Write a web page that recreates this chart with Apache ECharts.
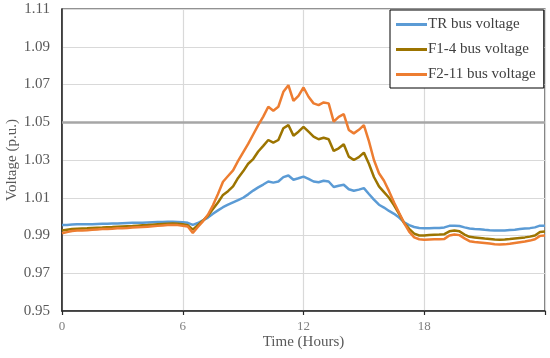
<!DOCTYPE html>
<html>
<head>
<meta charset="utf-8">
<script src="https://cdn.jsdelivr.net/npm/echarts@6/dist/echarts.min.js"></script>
<style>html,body{margin:0;padding:0;background:#fff}#c{width:550px;height:358px}</style>
</head>
<body>
<div id="c"></div>
<script>
// Time in hours, 15-minute steps
var hours = Array.from({length: 97}, function (_, i) { return i * 0.25; });
var xTicks = [0, 6, 12, 18, 24];
var threshold = 1.05;

var trBus = [0.9955,0.9956,0.9958,0.9959,0.9959,0.9960,0.9960,0.9961,0.9962,0.9962,0.9963,0.9964,0.9965,0.9966,0.9967,0.9967,0.9968,0.9969,0.9970,0.9971,0.9972,0.9973,0.9973,0.9972,0.9970,
  0.9967,0.9956,0.9966,0.9980,0.9995,1.0015,1.0033,1.0050,1.0063,1.0075,1.0087,1.0100,1.0118,1.0138,1.0155,
  1.0170,1.0186,1.0180,1.0186,1.0209,1.0218,1.0195,1.0203,1.0212,1.0200,1.0186,1.0182,1.0190,1.0186,1.0157,1.0164,1.0169,1.0145,1.0137,1.0143,1.0151,1.0120,1.0090,1.0063,1.0048,1.0030,1.0015,0.9995,0.9970,0.9955,0.9945,0.9940,
  0.9939,0.9939,0.9940,0.9940,0.9943,0.9951,0.9952,0.9950,0.9943,0.9937,0.9934,0.9933,0.9930,0.9928,0.9927,0.9926,0.9927,0.9929,0.9931,0.9934,0.9937,0.9939,0.9943,0.9952,0.9952];

var f14Bus = [0.9926,0.9930,0.9934,0.9936,0.9937,0.9938,0.9940,0.9941,0.9942,0.9944,0.9945,0.9947,0.9948,0.9949,0.9950,0.9952,0.9954,0.9955,0.9957,0.9959,0.9961,0.9962,0.9963,0.9962,0.9960,
  0.9955,0.9931,0.9955,0.9978,1.0005,1.0040,1.0075,1.0115,1.0135,1.0160,1.0205,1.0240,1.0280,1.0305,1.0345,
  1.0375,1.0406,1.0392,1.0406,1.0468,1.0485,1.0429,1.0450,1.0476,1.0450,1.0424,1.0410,1.0418,1.0410,1.0348,1.0362,1.0383,1.0318,1.0300,1.0315,1.0339,1.0280,1.0210,1.0160,1.0130,1.0100,1.0060,1.0015,0.9966,0.9935,0.9910,0.9900,
  0.9900,0.9903,0.9904,0.9905,0.9907,0.9922,0.9926,0.9922,0.9905,0.9893,0.9890,0.9887,0.9884,0.9882,0.9879,0.9878,0.9879,0.9881,0.9884,0.9887,0.9890,0.9894,0.9900,0.9919,0.9921];

var f211Bus = [0.9912,0.9918,0.9924,0.9926,0.9927,0.9928,0.9930,0.9932,0.9934,0.9935,0.9936,0.9938,0.9939,0.9940,0.9942,0.9944,0.9945,0.9947,0.9949,0.9951,0.9953,0.9955,0.9956,0.9955,0.9952,
  0.9948,0.9914,0.9945,0.9975,1.0010,1.0060,1.0120,1.0185,1.0215,1.0245,1.0295,1.0340,1.0385,1.0435,1.0485,1.0530,
  1.0582,1.0561,1.0582,1.0661,1.0696,1.0613,1.0640,1.0684,1.0635,1.0600,1.0591,1.0605,1.0600,1.0503,1.0529,1.0543,1.0459,1.0441,1.0460,1.0485,1.0400,1.0300,1.0230,1.0190,1.0135,1.0075,1.0020,0.9966,0.9920,0.9890,0.9880,
  0.9878,0.9879,0.9880,0.9880,0.9882,0.9900,0.9905,0.9902,0.9885,0.9870,0.9866,0.9863,0.9860,0.9857,0.9854,0.9852,0.9853,0.9856,0.9860,0.9864,0.9868,0.9873,0.9880,0.9898,0.9900];

var seriesNames = ['TR bus voltage', 'F1-4 bus voltage', 'F2-11 bus voltage'];
var seriesColors = ['#5B9BD5', '#9C7400', '#ED7D31'];

function pairs(vals) { return vals.map(function (v, i) { return [hours[i], v]; }); }

var font = '"Liberation Serif", "Times New Roman", serif';
var chart = echarts.init(document.getElementById('c'), null, {renderer: 'canvas'});
var allData = [trBus, f14Bus, f211Bus];
var series = allData.map(function (d, k) {
  var s = {
    name: seriesNames[k], type: 'line', data: pairs(d), symbol: 'none', smooth: false,
    lineStyle: {color: seriesColors[k], width: 2.5}, itemStyle: {color: seriesColors[k]}, z: 3 + k
  };
  if (k === 0) {
    s.markLine = {
      silent: true, symbol: 'none', label: {show: false},
      lineStyle: {color: '#A6A6A6', width: 2.5, type: 'solid'},
      data: [{yAxis: threshold}], z: 2, animation: false
    };
  }
  return s;
});

chart.setOption({
  animation: false,
  backgroundColor: '#fff',
  grid: {left: 62, right: 5, top: 9, bottom: 47, containLabel: false, outerBoundsMode: 'none',
    show: true, borderColor: '#262626', borderWidth: 1.2, backgroundColor: 'transparent'},
  legend: {
    data: seriesNames, orient: 'vertical', left: 390, top: 10,
    backgroundColor: '#fff', borderColor: '#000', borderWidth: 1,
    padding: [7, 8, 6, 6], itemGap: 10, itemWidth: 31, itemHeight: 3, icon: 'rect',
    textStyle: {fontFamily: font, fontSize: 15, color: '#404040', padding: [0, 0, 0, -4]}
  },
  xAxis: {
    type: 'value', min: 0, max: 24, interval: 6,
    name: 'Time (Hours)', nameLocation: 'middle', nameGap: 24, nameMoveOverlap: false,
    nameTextStyle: {fontFamily: font, fontSize: 15, color: '#595959'},
    axisLine: {show: true, lineStyle: {color: '#262626', width: 1.5}},
    axisTick: {show: true, length: 4, lineStyle: {color: '#262626', width: 1.2}},
    axisLabel: {fontFamily: font, fontSize: 13, color: '#7F7F7F', margin: 9,
      formatter: function (v) { return v === xTicks[xTicks.length - 1] ? '' : String(v); }},
    splitLine: {show: true, lineStyle: {color: '#D9D9D9', width: 1.2}}
  },
  yAxis: {
    type: 'value', min: 0.95, max: 1.11, interval: 0.02,
    name: 'Voltage (p.u.)', nameLocation: 'middle', nameGap: 42, nameMoveOverlap: false,
    nameTextStyle: {fontFamily: font, fontSize: 15, color: '#595959'},
    axisLine: {show: true, lineStyle: {color: '#262626', width: 1.5}},
    axisTick: {show: false},
    axisLabel: {fontFamily: font, fontSize: 15, color: '#595959', margin: 12,
      formatter: function (v) { return v.toFixed(2); }},
    splitLine: {show: true, lineStyle: {color: '#D9D9D9', width: 1.2}}
  },
  series: series
});
</script>
</body>
</html>
